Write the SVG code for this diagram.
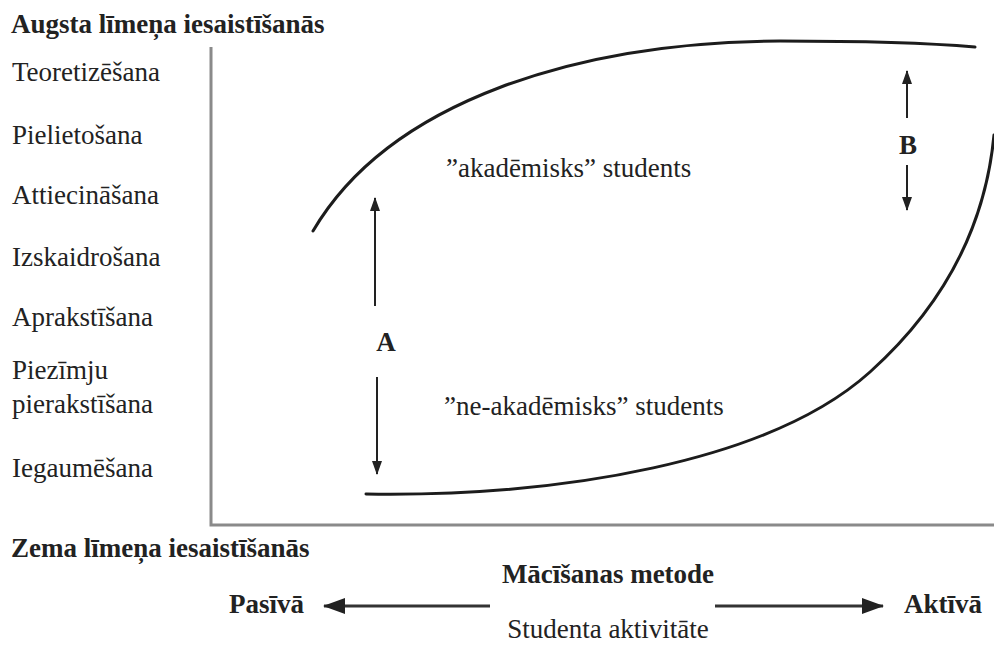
<svg xmlns="http://www.w3.org/2000/svg" width="994" height="648" viewBox="0 0 994 648">
  <style>
    text { font-family: "Liberation Serif", "Times New Roman", serif; fill: #222; }
    .lbl { font-size: 27px; }
    .bold { font-size: 27px; font-weight: bold; }
    .axis { stroke: #8a8a8a; stroke-width: 3; fill: none; }
    .curve { stroke: #1c1c1c; stroke-width: 3; fill: none; stroke-linecap: round; }
    .conn { stroke: #222; stroke-width: 2; fill: none; }
    .conn-wide { stroke: #333; stroke-width: 3; fill: none; }
  </style>
  <defs>
    <marker id="head" viewBox="0 0 14 10" refX="13" refY="5" markerWidth="14" markerHeight="10" markerUnits="userSpaceOnUse" orient="auto">
      <path d="M0,0 L14,5 L0,10 Z" fill="#222"/>
    </marker>
    <marker id="head-wide" viewBox="0 0 22 16" refX="21" refY="8" markerWidth="22" markerHeight="16" markerUnits="userSpaceOnUse" orient="auto">
      <path d="M0,0 L22,8 L0,16 Z" fill="#222"/>
    </marker>
  </defs>

  <rect width="994" height="648" fill="#ffffff"/>

  <!-- axes -->
  <g id="axes">
    <path class="axis" d="M211,47 V525 H994"/>
  </g>

  <!-- level headings -->
  <g id="high-level"><text class="bold" x="11" y="33">Augsta līmeņa iesaistīšanās</text></g>
  <g id="low-level"><text class="bold" x="11" y="557">Zema līmeņa iesaistīšanās</text></g>

  <!-- activity scale on the vertical axis -->
  <g id="scale">
    <text class="lbl" x="12" y="81">Teoretizēšana</text>
    <text class="lbl" x="12" y="144">Pielietošana</text>
    <text class="lbl" x="12" y="204">Attiecināšana</text>
    <text class="lbl" x="12" y="266">Izskaidrošana</text>
    <text class="lbl" x="12" y="326">Aprakstīšana</text>
    <text class="lbl" x="12" y="379">Piezīmju</text>
    <text class="lbl" x="12" y="413">pierakstīšana</text>
    <text class="lbl" x="12" y="477">Iegaumēšana</text>
  </g>

  <!-- upper boundary: academic student -->
  <g id="academic">
    <path class="curve" d="M313,231 C390,100 580,42 780,41 C880,41 940,44 975,47"/>
    <text class="lbl" x="446" y="177">”akadēmisks” students</text>
  </g>

  <!-- lower boundary: non-academic student -->
  <g id="non-academic">
    <path class="curve" d="M366,494 C560,497 770,462 870,372 C940,309 985,230 994,135"/>
    <text class="lbl" x="444" y="415">”ne-akadēmisks” students</text>
  </g>

  <g id="label-A"><text class="bold" x="386" y="351" text-anchor="middle">A</text></g>
  <g id="label-B"><text class="bold" x="908" y="154" text-anchor="middle">B</text></g>

  <g id="method">
    <text class="bold" x="608" y="583" text-anchor="middle">Mācīšanas metode</text>
    <text class="lbl" x="608" y="638" text-anchor="middle">Studenta aktivitāte</text>
  </g>
  <g id="passive"><text class="bold" x="229" y="613">Pasīvā</text></g>
  <g id="active"><text class="bold" x="904" y="613">Aktīvā</text></g>

  <!-- connectors -->
  <g id="connectors">
    <line class="conn" x1="375" y1="306" x2="375" y2="198" marker-end="url(#head)"/>
    <line class="conn" x1="377" y1="377" x2="377" y2="474" marker-end="url(#head)"/>
    <line class="conn" x1="907" y1="118" x2="907" y2="71" marker-end="url(#head)"/>
    <line class="conn" x1="907" y1="165" x2="907" y2="210" marker-end="url(#head)"/>
    <line class="conn-wide" x1="490" y1="606" x2="324" y2="606" marker-end="url(#head-wide)"/>
    <line class="conn-wide" x1="715" y1="606" x2="883" y2="606" marker-end="url(#head-wide)"/>
  </g>
</svg>
